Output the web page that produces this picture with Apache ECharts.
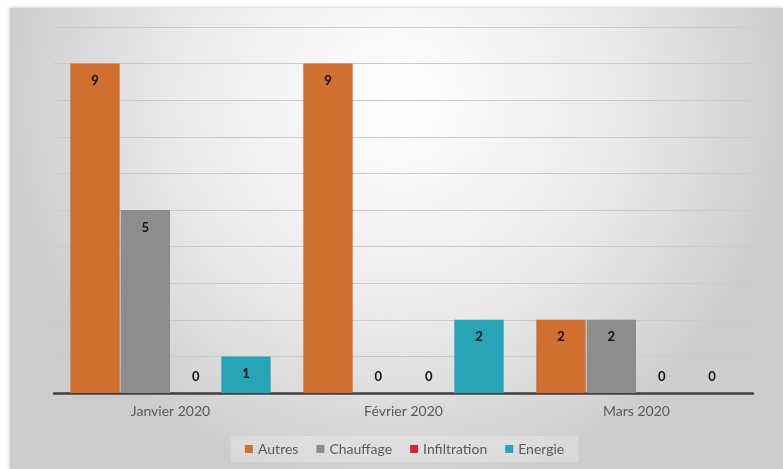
<!DOCTYPE html>
<html><head><meta charset="utf-8">
<script src="https://cdn.jsdelivr.net/npm/echarts@6/dist/echarts.min.js"></script>
<style>html,body{margin:0;padding:0;background:#fff;}#c{width:783px;height:469px;}</style>
</head><body><div id="c"></div>
<script>
var categories = ['Janvier 2020', 'Février 2020', 'Mars 2020'];
var seriesNames = ['Autres', 'Chauffage', 'Infiltration', 'Energie'];
var autres = [9, 9, 2];
var chauffage = [5, 0, 2];
var infiltration = [0, 0, 0];
var energie = [1, 2, 0];
var colors = ['#cf6f30', '#8d8d8d', '#d42a2e', '#27a4b5'];
var yTicks = [0, 1, 2, 3, 4, 5, 6, 7, 8, 9, 10];

var font = 'Lato, "Open Sans", sans-serif';
function mkData(vals) {
  return vals.map(function (v) {
    if (v === 0) {
      return { value: v, label: { position: 'top', distance: 10 } };
    }
    return { value: v };
  });
}
var allVals = [autres, chauffage, infiltration, energie];
var chart = echarts.init(document.getElementById('c'), null, { renderer: 'canvas' });
chart.setOption({
  animation: false,
  graphic: [{
    type: 'rect', z: -10, silent: true,
    shape: { x: 10, y: 8, width: 773, height: 461 },
    style: {
      fill: { type: 'radial', x: 0.5, y: 0.2, r: 0.85,
        colorStops: [{ offset: 0, color: '#ffffff' }, { offset: 0.55, color: '#ebebeb' }, { offset: 1, color: '#cdcdcd' }] },
      shadowBlur: 4, shadowColor: 'rgba(0,0,0,0.25)'
    }
  }],
  grid: { left: 54, right: 30, top: 27, bottom: 76 },
  xAxis: {
    type: 'category', data: categories,
    axisTick: { show: false },
    axisLine: { lineStyle: { color: '#3f3f3f', width: 2.5 } },
    axisLabel: { color: '#595959', fontSize: 14, fontFamily: font, margin: 11 }
  },
  yAxis: {
    type: 'value', min: yTicks[0], max: yTicks[yTicks.length - 1], interval: 1,
    axisLabel: { show: false }, axisLine: { show: false }, axisTick: { show: false },
    splitLine: { lineStyle: { color: '#cacaca', width: 1 } }
  },
  legend: {
    bottom: 7, left: 231,
    itemWidth: 8, itemHeight: 8, itemGap: 18,
    icon: 'rect',
    padding: [6, 14],
    backgroundColor: 'rgba(255,255,255,0.25)',
    textStyle: { color: '#595959', fontSize: 14, fontFamily: font },
    data: seriesNames
  },
  series: seriesNames.map(function (n, i) {
    return {
      name: n, type: 'bar', data: mkData(allVals[i]),
      itemStyle: { color: colors[i] },
      barGap: '2%', barCategoryGap: '14%',
      label: { show: true, position: 'insideTop', distance: 11, color: '#111', fontWeight: 'bold', fontSize: 13, fontFamily: font }
    };
  })
});
</script></body></html>
